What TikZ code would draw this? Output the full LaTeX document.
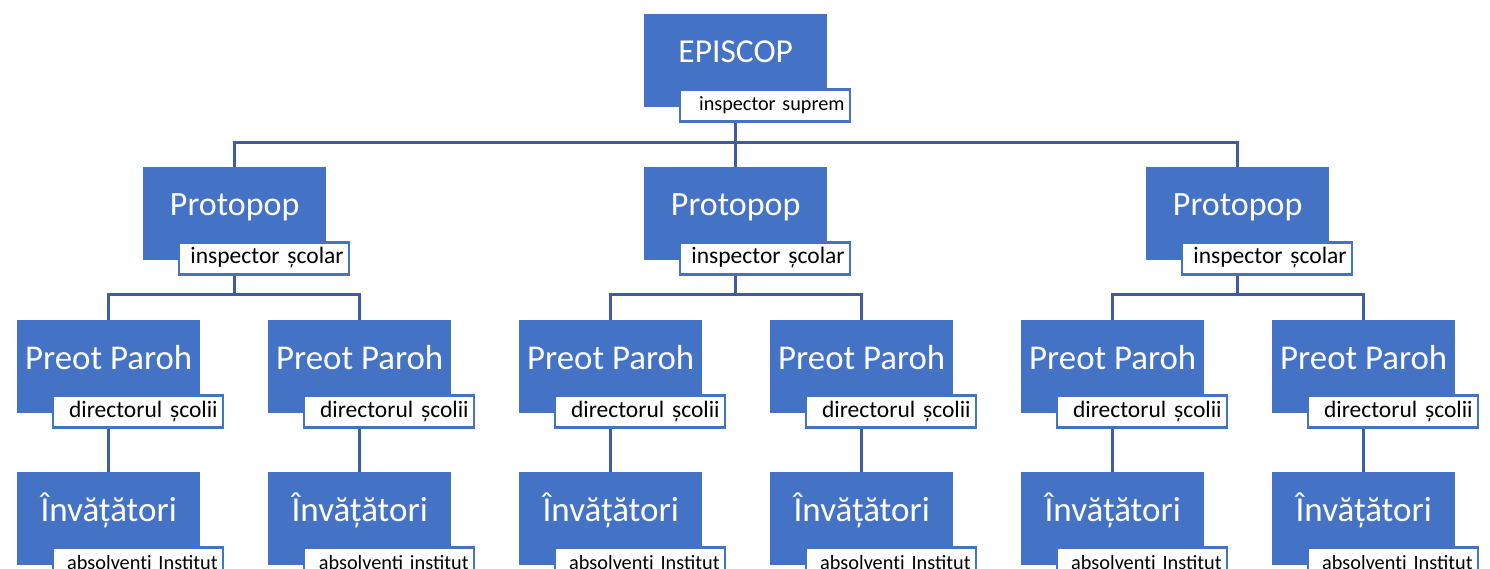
\documentclass[tikz,border=0pt]{standalone}
\usepackage{fontspec}
\setmainfont{Carlito}
\usetikzlibrary{backgrounds,positioning}
\definecolor{boxblue}{HTML}{4472C4}
\definecolor{linkblue}{HTML}{3F5BA8}
\tikzset{
  rolebox/.style={draw=none,fill=boxblue,minimum width=183pt,minimum height=93pt,inner sep=0pt,anchor=north west},
  roletext/.style={text=white,anchor=base,inner sep=0pt},
  rolelabel/.style={draw=boxblue,line width=2.2pt,fill=white,text width=159pt,align=right,
    inner xsep=5.5pt,inner ysep=0pt,minimum height=32pt,text height=15pt,text depth=4pt,
    anchor=north west},
  conn/.style={draw=linkblue,line width=2.8pt}
}
\newcommand{\orgunit}[7]{%
  % #1 name, #2 x, #3 y, #4 title, #5 subtitle, #6 title size, #7 subtitle size
  \node[rolebox] (#1) at (#2,#3) {};
  \node[roletext,font=\fontsize{#6}{#6}\selectfont] (#1t) at ([yshift=-49pt]#1.north) {#4};
  \node[rolelabel,font=\fontsize{#7}{#7}\selectfont] (#1l) at ([xshift=35pt,yshift=19pt]#1.south west) {#5};
}
\begin{document}
\begin{tikzpicture}[x=1pt,y=-1pt]
\useasboundingbox (0,0) rectangle (1490,569);
\clip (0,0) rectangle (1490,569);

\orgunit{ep}{644}{14}{EPISCOP}{inspector suprem}{33.5}{20.2}

\orgunit{pa}{143}{167}{Protopop}{inspector școlar}{34}{23.5}
\orgunit{pb}{644}{167}{Protopop}{inspector școlar}{34}{23.5}
\orgunit{pc}{1146}{167}{Protopop}{inspector școlar}{34}{23.5}

\orgunit{ra}{17}{320}{Preot Paroh}{directorul școlii}{34.8}{23.5}
\orgunit{rb}{268}{320}{Preot Paroh}{directorul școlii}{34.8}{23.5}
\orgunit{rc}{519}{320}{Preot Paroh}{directorul școlii}{34.8}{23.5}
\orgunit{rd}{770}{320}{Preot Paroh}{directorul școlii}{34.8}{23.5}
\orgunit{re}{1021}{320}{Preot Paroh}{directorul școlii}{34.8}{23.5}
\orgunit{rf}{1272}{320}{Preot Paroh}{directorul școlii}{34.8}{23.5}

\orgunit{ia}{17}{472}{Învățători}{absolvenți Institut}{35}{20.3}
\orgunit{ib}{268}{472}{Învățători}{absolventi institut}{35}{20.3}
\orgunit{ic}{519}{472}{Învățători}{absolvenți Institut}{35}{20.3}
\orgunit{id}{770}{472}{Învățători}{absolvenți Institut}{35}{20.3}
\orgunit{ie}{1021}{472}{Învățători}{absolvenți Institut}{35}{20.3}
\orgunit{if}{1272}{472}{Învățători}{absolvenți Institut}{35}{20.3}

\begin{scope}[on background layer]
  \coordinate (epj) at ([yshift=-35pt]ep.south);
  \draw[conn] (ep.south) -- (epj);
  \draw[conn] (epj) -| (pa.north);
  \draw[conn] (epj) -| (pc.north);
  \draw[conn] (epj) -| (pb.north);
  \foreach \p/\l/\r in {pa/ra/rb, pb/rc/rd, pc/re/rf}{
    \coordinate (\p j) at ([yshift=-34pt]\p.south);
    \draw[conn] (\p.south) -- (\p j);
    \draw[conn] (\p j) -| (\l.north);
    \draw[conn] (\p j) -| (\r.north);
  }
  \foreach \r/\i in {ra/ia, rb/ib, rc/ic, rd/id, re/ie, rf/if}{
    \draw[conn] (\r.south) -- (\i.north);
  }
\end{scope}
\end{tikzpicture}
\end{document}
